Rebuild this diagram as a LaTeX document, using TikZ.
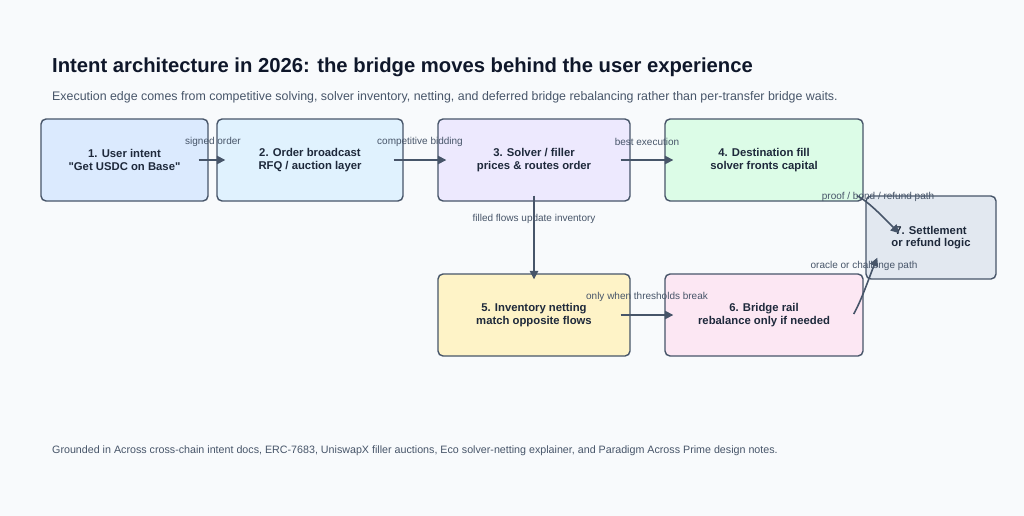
\documentclass[tikz,border=0pt]{standalone}
\usepackage{fontspec}
\setmainfont{Liberation Sans}[Ligatures=TeXOff]
\usetikzlibrary{arrows.meta,calc}
\definecolor{bg}{HTML}{F8FAFC}
\definecolor{edge}{HTML}{475569}
\definecolor{ink}{HTML}{1E293B}
\definecolor{titleink}{HTML}{0F172A}
\definecolor{subink}{HTML}{475569}
\definecolor{c1}{HTML}{DBEAFE}
\definecolor{c2}{HTML}{E0F2FE}
\definecolor{c3}{HTML}{EDE9FE}
\definecolor{c4}{HTML}{DCFCE7}
\definecolor{c5}{HTML}{FEF3C7}
\definecolor{c6}{HTML}{FCE7F3}
\definecolor{c7}{HTML}{E2E8F0}
\tikzset{
  box/.style={draw=edge, line width=1.4pt, rounded corners=5pt, minimum height=82pt,
    align=center, text=ink, font=\fontsize{11.3}{12.5}\selectfont\bfseries, inner sep=0pt},
  arr/.style={draw=edge, line width=1.6pt, -{Triangle[length=8.5pt,width=8.5pt]}},
  elabel/.style={text=subink, font=\fontsize{10}{11}\selectfont, inner sep=0pt},
}
\begin{document}
\begin{tikzpicture}[x=1pt,y=-1pt]
\path[use as bounding box, fill=bg] (0,0) rectangle (1024,516);
\node[anchor=base west, text=titleink, font=\fontsize{20.25}{22}\selectfont\bfseries, inner sep=0pt] (title) at (52,73) {Intent architecture in 2026: the bridge moves behind the user experience};
\node[anchor=base west, text=subink, font=\fontsize{12.4}{15}\selectfont, inner sep=0pt] (sub) at (52,101) {Execution edge comes from competitive solving, solver inventory, netting, and deferred bridge rebalancing rather than per-transfer bridge waits.};

\node[box, fill=c1, minimum width=167pt] (b1) at (124.5,160) {1. User intent\\"Get USDC on Base"};
\node[box, fill=c2, minimum width=186pt] (b2) at (310,160) {2. Order broadcast\\RFQ / auction layer};
\node[box, fill=c3, minimum width=192pt] (b3) at (534,160) {3. Solver / filler\\prices \& routes order};
\node[box, fill=c4, minimum width=198pt] (b4) at (764,160) {4. Destination fill\\solver fronts capital};
\node[box, fill=c5, minimum width=192pt] (b5) at (534,315) {5. Inventory netting\\match opposite flows};
\node[box, fill=c6, minimum width=198pt] (b6) at (764,315) {6. Bridge rail\\rebalance only if needed};
\node[box, fill=c7, minimum width=130pt, minimum height=83pt] (b7) at (931,237.5) {7. Settlement\\or refund logic};

\draw[arr, shorten <=-10pt, shorten >=-9pt] (b1.east) -- (b2.west);
\draw[arr, shorten <=-10pt, shorten >=-9pt] (b2.east) -- (b3.west);
\draw[arr, shorten <=-10pt, shorten >=-9pt] (b3.east) -- (b4.west);
\draw[arr, shorten <=-6pt, shorten >=-6pt] (b3.south) -- (b5.north);
\draw[arr, shorten <=-10pt, shorten >=-9pt] (b5.east) -- (b6.west);
\coordinate (s6) at ($(b6.east)+(-10,-1)$);
\coordinate (e67) at ($(b7.south west)+(12,-22)$);
\draw[arr] (s6) .. controls +(8,-14) and +(-6,14) .. (e67);
\coordinate (s4) at ($(b4.south east)+(-7,-6)$);
\coordinate (e47) at ($(b7.north west)+(34,38)$);
\draw[arr] (s4) .. controls +(10,4) and +(-14,-14) .. (e47);

\node[elabel] (l12) at (213,142) {signed order};
\node[elabel] (l23) at (420,142) {competitive bidding};
\node[elabel] (l34) at (647,142) {best execution};
\node[elabel] (l35) at (534,219) {filled flows update inventory};
\node[elabel] (l56) at (647,297) {only when thresholds break};
\node[elabel] (l67) at (864,266) {oracle or challenge path};
\node[elabel] (l47) at (878,197) {proof / bond / refund path};

\node[anchor=base west, text=subink, font=\fontsize{10.7}{13}\selectfont, inner sep=0pt] (foot) at (52,453) {Grounded in Across cross-chain intent docs, ERC-7683, UniswapX filler auctions, Eco solver-netting explainer, and Paradigm Across Prime design notes.};
\end{tikzpicture}
\end{document}
